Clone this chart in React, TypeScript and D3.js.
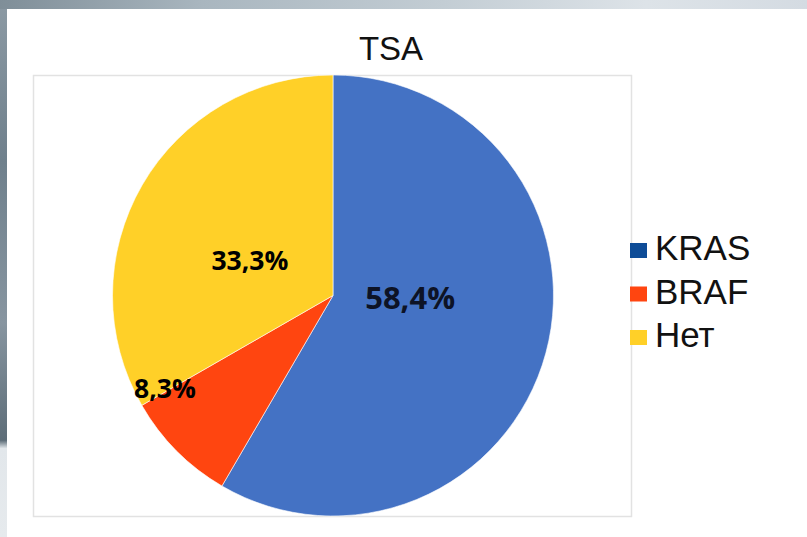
import React from "react";
import * as d3 from "d3";

const categories = ["KRAS", "BRAF", "Нет"];
const values = [58.4, 8.3, 33.3];
const labels = ["58,4%", "8,3%", "33,3%"];
const sliceColors = ["#4472C4", "#FF4510", "#FFD028"];
const legendColors = ["#0E4C97", "#FF4510", "#FFD028"];
const title = "TSA";

export default function App() {
  const W = 807, H = 537;
  const cx = 333, cy = 295.5, r = 220.5;
  const pie = d3.pie<number>().sort(null).value((d) => d)(values);
  const arc = d3.arc<d3.PieArcDatum<number>>().innerRadius(0).outerRadius(r);
  // label placement: radius fraction and angle shift (deg) relative to slice middle
  const labelPos = [
    { rf: 0.35, shift: -14, size: 31 },
    { rf: 0.87, shift: 16, size: 26.5 },
    { rf: 0.41, shift: -7, size: 26.5 },
  ];
  const labelXY = pie.map((p, i) => {
    const a = (p.startAngle + p.endAngle) / 2 + (labelPos[i].shift * Math.PI) / 180;
    return [Math.sin(a) * r * labelPos[i].rf, -Math.cos(a) * r * labelPos[i].rf];
  });
  const legendY = d3.scaleLinear().domain([0, 1]).range([260, 303.5]);
  return (
    <div style={{ position: "fixed", left: 0, top: 0, width: W, height: H }}>
      <svg width={W} height={H} style={{ display: "block" }}>
        <defs>
          <linearGradient id="topbg" x1="0" x2="1" y1="0" y2="0">
            <stop offset="0" stopColor="#7f8e98" />
            <stop offset="0.25" stopColor="#a9b6bf" />
            <stop offset="0.55" stopColor="#c3cdd4" />
            <stop offset="0.8" stopColor="#dde3e8" />
            <stop offset="1" stopColor="#d4dbe2" />
          </linearGradient>
          <linearGradient id="leftbg" x1="0" x2="0" y1="0" y2="1">
            <stop offset="0" stopColor="#8c9aa4" />
            <stop offset="0.3" stopColor="#6f808c" />
            <stop offset="0.6" stopColor="#8795a0" />
            <stop offset="0.82" stopColor="#5d6d78" />
            <stop offset="0.835" stopColor="#e2e7eb" />
            <stop offset="1" stopColor="#e6eaed" />
          </linearGradient>
        </defs>
        <rect x={0} y={0} width={W} height={H} fill="url(#leftbg)" />
        <rect x={0} y={0} width={W} height={9} fill="url(#topbg)" />
        <rect x={7} y={9} width={W - 7} height={H - 9} fill="#ffffff" />
        <rect x={33.5} y={75.5} width={598} height={441} fill="#ffffff" stroke="#e2e2e2" strokeWidth={1.5} />
        <text x={391} y={59.5} textAnchor="middle" fontFamily="'Liberation Sans', Arial, sans-serif" fontSize={33} fill="#111">
          {title}
        </text>
        <g transform={`translate(${cx},${cy})`}>
          {pie.map((p, i) => (
            <path key={i} d={arc(p) || ""} fill={sliceColors[i]} stroke="#ffffff" strokeWidth={0.6} />
          ))}
          {pie.map((p, i) => (
            <text
              key={"l" + i}
              x={labelXY[i][0]}
              y={labelXY[i][1]}
              textAnchor="middle"
              dominantBaseline="central"
              fontFamily="'Open Sans', 'DejaVu Sans', sans-serif"
              fontWeight={700}
              fontSize={labelPos[i].size}
              fill={i === 0 ? "#0d1326" : "#000000"}
            >
              {labels[i]}
            </text>
          ))}
        </g>
        {categories.map((c, i) => (
          <g key={c} transform={`translate(630,${legendY(i)})`}>
            <rect x={0} y={-17} width={17} height={15} fill={legendColors[i]} />
            <text x={25} y={0} fontFamily="'Liberation Sans', Arial, sans-serif" fontSize={35} fill="#111">
              {c}
            </text>
          </g>
        ))}
      </svg>
    </div>
  );
}
